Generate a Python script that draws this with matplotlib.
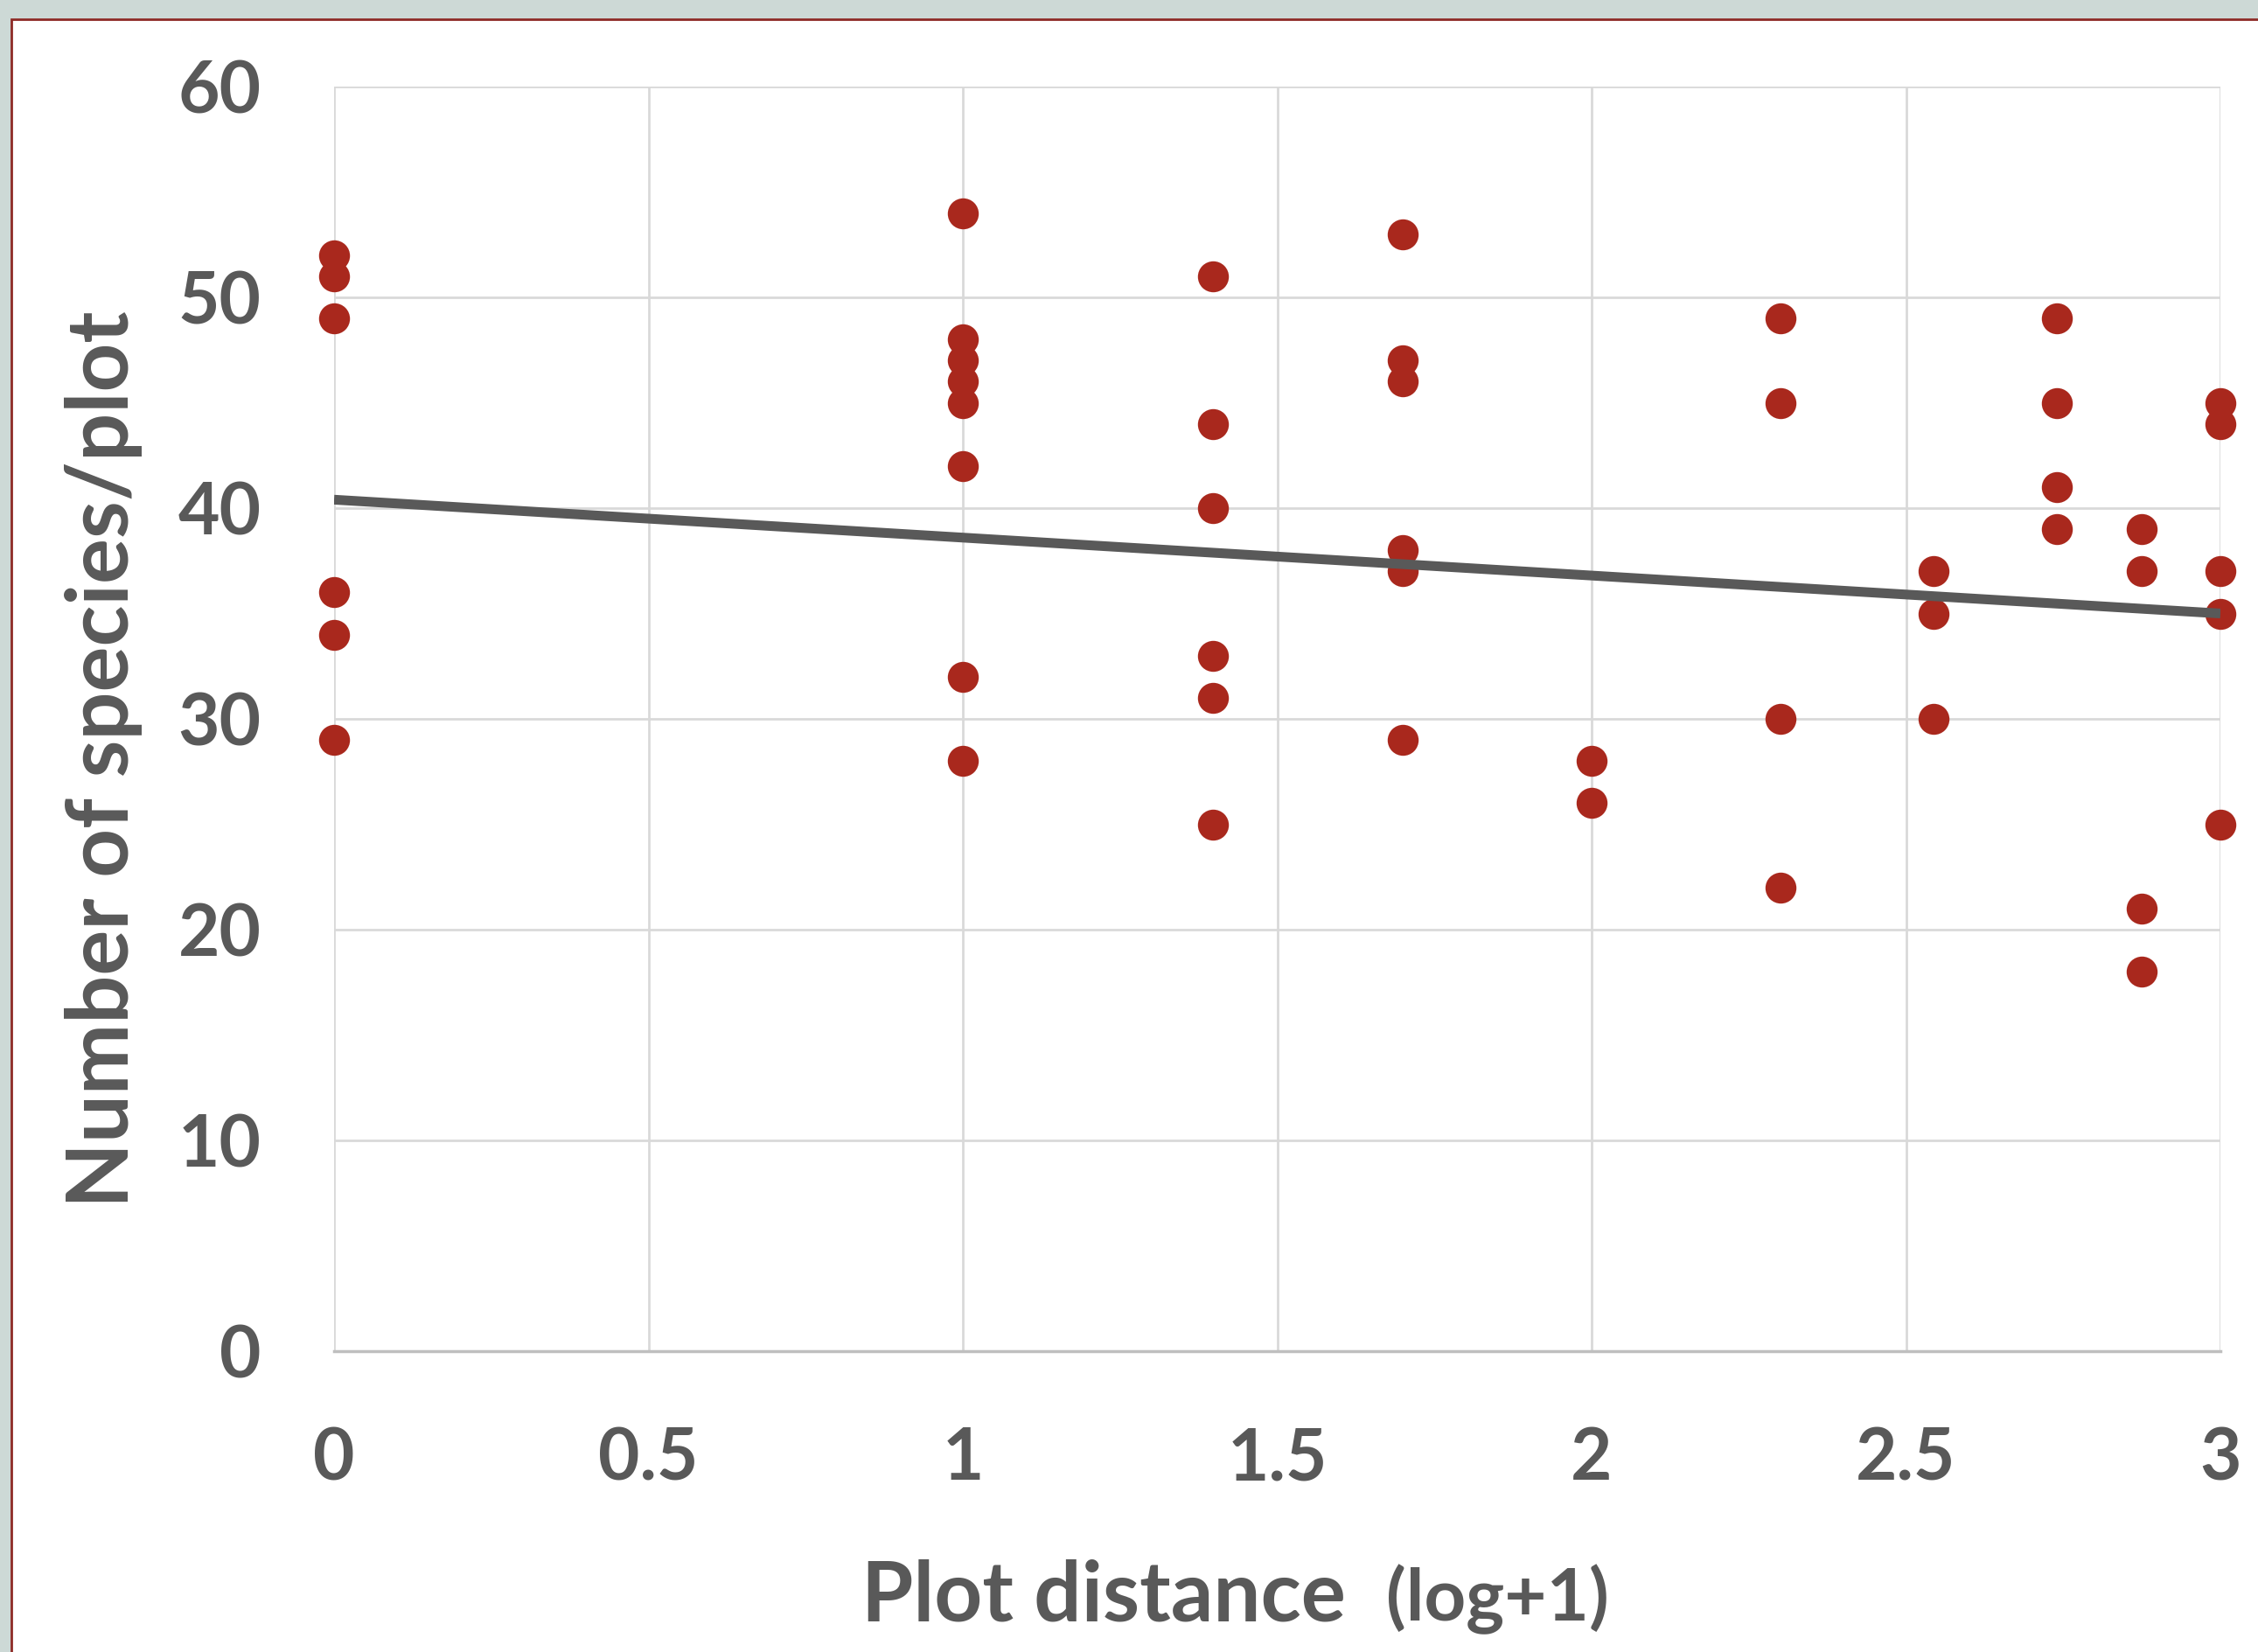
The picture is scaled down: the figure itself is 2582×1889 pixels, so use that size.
import numpy as np
import matplotlib.pyplot as plt
from matplotlib.patches import Rectangle

plt.rcParams['font.family'] = ['Lato', 'DejaVu Sans']
plt.rcParams['font.weight'] = 'bold'

# plot distances (m) per group, and species counts per plot
dist_1 = 1
dist_10 = 10
dist_25 = 25
dist_50 = 50
dist_100 = 100
dist_200 = 200
dist_350 = 350
dist_550 = 550
dist_750 = 750
dist_1000 = 1000

species_1 = [52, 51, 49, 36, 34, 29]
species_10 = [54, 48, 47, 46, 45, 42, 32, 28]
species_25 = [51, 44, 40, 33, 31, 25]
species_50 = [53, 47, 46, 38, 37, 29]
species_100 = [28, 26]
species_200 = [49, 45, 30, 22]
species_350 = [37, 35, 30]
species_550 = [49, 45, 41, 39]
species_750 = [39, 37, 21, 18]
species_1000 = [45, 44, 37, 35, 25]

groups = [
    (dist_1, species_1), (dist_10, species_10), (dist_25, species_25),
    (dist_50, species_50), (dist_100, species_100), (dist_200, species_200),
    (dist_350, species_350), (dist_550, species_550), (dist_750, species_750),
    (dist_1000, species_1000),
]

# trendline as drawn in the chart
trend_intercept = 40.4
trend_slope = -1.8
trend_x = [0, 3]

x_ticks = [0, 0.5, 1, 1.5, 2, 2.5, 3]
x_tick_labels = ["0", "0.5", "1", "1.5", "2", "2.5", "3"]
y_ticks = [0, 10, 20, 30, 40, 50, 60]

text_col = "#595959"
dot_col = "#a9281d"

W, H = 2582, 1889
fig = plt.figure(figsize=(W / 100, H / 100), dpi=100)
fig.patch.set_facecolor("#cdd9d6")

# white panel with a thin dark red border
panel = Rectangle((13 / W, -0.05), 1.2, 1 - 22 / H + 0.05, transform=fig.transFigure,
                  facecolor="white", edgecolor="#8e2a26", linewidth=2, zorder=-1)
fig.patches.append(panel)

ax = fig.add_axes([382 / W, 1 - 1545 / H, (2539 - 382) / W, (1545 - 99) / H])
ax.set_facecolor("none")

xs = []
ys = []
for d, vals in groups:
    for v in vals:
        xs.append(np.log10(d))
        ys.append(v)

ax.scatter(xs, ys, s=650, color=dot_col, linewidths=0, zorder=3, clip_on=False)

ty = [trend_intercept + trend_slope * t for t in trend_x]
ax.plot(trend_x, ty, color=text_col, linewidth=8, solid_capstyle="butt", zorder=4)

ax.set_xlim(0, 3)
ax.set_ylim(0, 60)
ax.set_xticks(x_ticks)
ax.set_xticklabels(x_tick_labels, fontweight="bold")
ax.set_yticks(y_ticks)
ax.set_yticklabels([str(v) for v in y_ticks], fontweight="bold")

ax.grid(True, color="#d9d9d9", linewidth=2)
ax.set_axisbelow(True)
for s in ["top", "right", "left"]:
    ax.spines[s].set_visible(False)
ax.spines["bottom"].set_color("#bfbfbf")
ax.spines["bottom"].set_linewidth(2.5)

ax.tick_params(axis="both", length=0, labelsize=59, labelcolor=text_col)
ax.tick_params(axis="x", pad=62)
ax.tick_params(axis="y", pad=60)

# axis titles
t1 = fig.text(985 / W, 1 - 1853 / H, "Plot distance  ", fontsize=69, fontweight="bold",
              color=text_col, ha="left", va="baseline")
fig.canvas.draw()
bb = t1.get_window_extent()
fig.text(bb.x1 / W, 1 - 1853 / H, "(log+1)", fontsize=60, fontweight="bold",
         color=text_col, ha="left", va="baseline")

fig.text(119 / W, 1 - 868 / H, "Number of species/plot", fontsize=70, fontweight="bold",
         color=text_col, rotation=90, ha="center", va="center")

fig.savefig("out.png", dpi=100, facecolor=fig.get_facecolor())
